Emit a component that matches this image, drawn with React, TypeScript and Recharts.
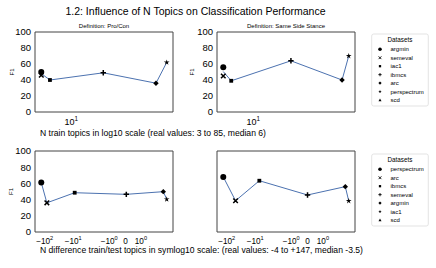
import React from 'react';
import { ScatterChart, Scatter, XAxis, YAxis, ReferenceArea } from 'recharts';

const FONT = '"Liberation Sans", Arial, Helvetica, sans-serif';

const TITLE = '1.2: Influence of N Topics on Classification Performance';
const PANEL_TITLES = ['Definition: Pro/Con', 'Definition: Same Side Stance'];
const TOP_XLABEL = 'N train topics in log10 scale (real values: 3 to 85, median 6)';
const BOTTOM_XLABEL = 'N difference train/test topics in symlog10 scale: (real values: -4 to +147, median -3.5)';

const TOP_DATASETS = ['argmin', 'semeval', 'iac1', 'ibmcs', 'arc', 'perspectrum', 'scd'];
const BOTTOM_DATASETS = ['perspectrum', 'arc', 'ibmcs', 'semeval', 'argmin', 'iac1', 'scd'];
const MARKERS = ['circle', 'x', 'square', 'plus', 'diamond', 'star', 'triangle'];

// Top row: number of train topics (log scale) vs F1
const proConTopics = [5.1, 5.1, 6.2, 20.6, 67.5, 86];
const proConF1 = [50, 46, 40, 49, 36, 62];
const sameSideTopics = [5.1, 5.1, 6.1, 23.4, 74, 86];
const sameSideF1 = [56, 45, 39, 64, 40, 70];

// Bottom row: difference train/test topics (in symlog axis units) vs F1
const proConDiff = [-5.42, -5.06, -3.27, 0.05, 2.43, 2.65];
const proConDiffF1 = [61, 36, 48.5, 46.5, 49.8, 40.4];
const sameSideDiff = [-5.42, -4.63, -3.1, 0, 2.43, 2.65];
const sameSideDiffF1 = [68, 38.6, 63.3, 45.7, 56, 38.3];

const TOP_TICKS = [1];
const TOP_TICK_BASE = ['10'];
const TOP_TICK_EXP = ['1'];
const BOTTOM_TICKS = [-5.2, -3.37, -1.05, 0, 0.99];
const BOTTOM_TICK_BASE = ['\u221210', '\u221210', '\u221210', '0', '10'];
const BOTTOM_TICK_EXP = ['2', '1', '0', '', '0'];
const Y_TICKS = [0, 20, 40, 60, 80, 100];

function Marker({ kind, cx, cy, s = 1 }: { kind: string; cx: number; cy: number; s?: number }) {
  const c = '#000';
  if (kind === 'circle') return <circle cx={cx} cy={cy} r={3 * s} fill={c} />;
  if (kind === 'x') {
    const d = 2.3 * s;
    return <path d={`M${cx - d},${cy - d}L${cx + d},${cy + d}M${cx - d},${cy + d}L${cx + d},${cy - d}`} stroke={c} strokeWidth={1.5 * s} />;
  }
  if (kind === 'square') {
    const h = 1.9 * s;
    return <rect x={cx - h} y={cy - h} width={2 * h} height={2 * h} fill={c} />;
  }
  if (kind === 'plus') {
    const d = 2.7 * s;
    return <path d={`M${cx - d},${cy}L${cx + d},${cy}M${cx},${cy - d}L${cx},${cy + d}`} stroke={c} strokeWidth={1.5 * s} />;
  }
  if (kind === 'diamond') {
    const d = 2.7 * s;
    return <polygon points={`${cx},${cy - d} ${cx + d},${cy} ${cx},${cy + d} ${cx - d},${cy}`} fill={c} />;
  }
  if (kind === 'star') {
    const pts: string[] = [];
    for (let i = 0; i < 10; i++) {
      const r = (i % 2 === 0 ? 3 : 1.1) * s;
      const a = -Math.PI / 2 + (i * Math.PI) / 5;
      pts.push(`${cx + r * Math.cos(a)},${cy + r * Math.sin(a)}`);
    }
    return <polygon points={pts.join(' ')} fill={c} />;
  }
  const d = 2.5 * s;
  return <polygon points={`${cx},${cy - d} ${cx + d},${cy + d * 0.8} ${cx - d},${cy + d * 0.8}`} fill={c} />;
}

type Pt = { x: number; y: number; marker: string };

function buildPoints(xs: number[], ys: number[], tx: (v: number) => number): Pt[] {
  return xs.map((x, i) => ({ x: tx(x), y: ys[i], marker: MARKERS[i] }));
}

function meanLine(points: Pt[]) {
  const groups: Record<string, number[]> = {};
  points.forEach((p) => {
    const k = String(p.x);
    (groups[k] = groups[k] || []).push(p.y);
  });
  return Object.keys(groups)
    .map((k) => ({ x: Number(k), y: groups[k].reduce((a, b) => a + b, 0) / groups[k].length }))
    .sort((a, b) => a.x - b.x);
}

function paddedDomain(points: Pt[]): [number, number] {
  const xs = points.map((p) => p.x);
  const lo = Math.min(...xs);
  const hi = Math.max(...xs);
  const pad = (hi - lo) * 0.05;
  return [lo - pad, hi + pad];
}

function makeTick(ticks: number[], base: string[], exp: string[], dyBase: number, fs: number, efs: number) {
  return (props: any) => {
    const { x, y, payload } = props;
    const i = ticks.indexOf(payload.value);
    return (
      <text x={x} y={y + dyBase} textAnchor="middle" fontFamily={FONT} fontSize={fs} fill="#000">
        <tspan>{base[i]}</tspan>
        {exp[i] ? (
          <tspan dy={-4.2} fontSize={efs}>
            {exp[i]}
          </tspan>
        ) : null}
      </text>
    );
  };
}

const W = 436;
const H = 268;
const PW = 138;

function Panel(props: {
  points: Pt[];
  left: number;
  top: number;
  ph: number;
  ticks: number[];
  tick: any;
  showY: boolean;
}) {
  const { points, left, top, ph, ticks, tick, showY } = props;
  const dom = paddedDomain(points);
  const line = meanLine(points);
  const yW = 30;
  const xH = 20;
  return (
    <div style={{ position: 'absolute', left: 0, top: 0 }}>
      <ScatterChart
        width={W}
        height={H}
        margin={{ left: left - yW, top, right: W - left - PW, bottom: H - top - ph - xH }}
      >
        <XAxis
          type="number"
          dataKey="x"
          domain={dom}
          allowDataOverflow
          ticks={ticks}
          interval={0}
          tick={tick}
          tickLine={false}
          axisLine={false}
          tickSize={0}
          tickMargin={0}
          height={xH}
        />
        <YAxis
          type="number"
          dataKey="y"
          domain={[0, 100]}
          allowDataOverflow
          ticks={Y_TICKS}
          interval={0}
          tick={showY ? { fontSize: 9.5, fill: '#000', fontFamily: FONT } : false}
          tickLine={false}
          axisLine={false}
          tickSize={0}
          tickMargin={4}
          width={yW}
        />
        <ReferenceArea x1={dom[0]} x2={dom[1]} y1={0} y2={100} fill="none" fillOpacity={0} stroke="#444" strokeWidth={1} />
        <Scatter
          data={line}
          line={{ stroke: '#4c72b0', strokeWidth: 1 }}
          shape={() => <g />}
          isAnimationActive={false}
        />
        <Scatter
          data={points}
          shape={(p: any) => <Marker kind={p.payload.marker} cx={p.cx} cy={p.cy} />}
          isAnimationActive={false}
        />
      </ScatterChart>
    </div>
  );
}

function LegendBox({ names, top }: { names: string[]; top: number }) {
  return (
    <g>
      <rect x={371.7} y={top} width={56.6} height={72} rx={2} fill="#fff" stroke="#dcdcdc" strokeWidth={0.8} />
      <text x={400} y={top + 8} textAnchor="middle" fontSize={6.3} fontFamily={FONT} fill="#000">
        Datasets
      </text>
      {names.map((n, i) => {
        const cy = top + 15.3 + i * 8.45;
        return (
          <g key={n}>
            <Marker kind={MARKERS[i]} cx={380} cy={cy} s={0.6} />
            <text x={390.5} y={cy + 2.1} fontSize={6} fontFamily={FONT} fill="#000">
              {n}
            </text>
          </g>
        );
      })}
    </g>
  );
}

export default function App() {
  const log = (v: number) => Math.log10(v);
  const id = (v: number) => v;
  const topTick = makeTick(TOP_TICKS, TOP_TICK_BASE, TOP_TICK_EXP, 13, 9, 6.3);
  const botTick = makeTick(BOTTOM_TICKS, BOTTOM_TICK_BASE, BOTTOM_TICK_EXP, 12, 8.2, 5.6);
  return (
    <div style={{ position: 'absolute', left: 0, top: 0, width: W, height: H, background: '#fff', fontFamily: FONT }}>
      <Panel points={buildPoints(proConTopics, proConF1, log)} left={35} top={32} ph={80} ticks={TOP_TICKS} tick={topTick} showY />
      <Panel points={buildPoints(sameSideTopics, sameSideF1, log)} left={217} top={32} ph={80} ticks={TOP_TICKS} tick={topTick} showY />
      <Panel points={buildPoints(proConDiff, proConDiffF1, id)} left={35} top={151} ph={81} ticks={BOTTOM_TICKS} tick={botTick} showY />
      <Panel points={buildPoints(sameSideDiff, sameSideDiffF1, id)} left={217} top={151} ph={81} ticks={BOTTOM_TICKS} tick={botTick} showY={false} />
      <svg width={W} height={H} style={{ position: 'absolute', left: 0, top: 0, pointerEvents: 'none' }}>
        <text x={195.5} y={15} textAnchor="middle" fontSize={10.5} fontFamily={FONT} fill="#000">
          {TITLE}
        </text>
        <text x={104} y={28} textAnchor="middle" fontSize={6} fontFamily={FONT} fill="#000">
          {PANEL_TITLES[0]}
        </text>
        <text x={286} y={28} textAnchor="middle" fontSize={6} fontFamily={FONT} fill="#000">
          {PANEL_TITLES[1]}
        </text>
        <text transform="translate(13.5,72) rotate(-90)" textAnchor="middle" fontSize={6} fontFamily={FONT} fill="#000">
          F1
        </text>
        <text transform="translate(194,72) rotate(-90)" textAnchor="middle" fontSize={6} fontFamily={FONT} fill="#000">
          F1
        </text>
        <text transform="translate(12.5,191.5) rotate(-90)" textAnchor="middle" fontSize={6} fontFamily={FONT} fill="#000">
          F1
        </text>
        <text x={40} y={136} fontSize={8.6} fontFamily={FONT} fill="#000">
          {TOP_XLABEL}
        </text>
        <text x={40} y={252.5} fontSize={8.6} fontFamily={FONT} fill="#000">
          {BOTTOM_XLABEL}
        </text>
        <LegendBox names={TOP_DATASETS} top={34} />
        <LegendBox names={BOTTOM_DATASETS} top={154} />
      </svg>
    </div>
  );
}
